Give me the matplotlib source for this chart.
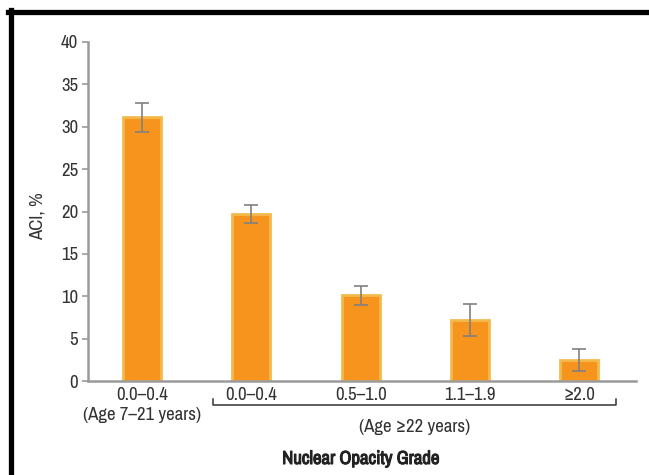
import matplotlib
matplotlib.use("Agg")
import matplotlib.pyplot as plt
from matplotlib.lines import Line2D
import matplotlib.patheffects as pe

categories = ["0.0\u20130.4", "0.0\u20130.4", "0.5\u20131.0", "1.1\u20131.9", "\u22652.0"]
values = [31.1, 19.7, 10.1, 7.2, 2.5]
errors = [1.7, 1.1, 1.1, 1.9, 1.3]
yticks = [0, 5, 10, 15, 20, 25, 30, 35, 40]

plt.rcParams['font.family'] = ["Archivo Narrow", "DejaVu Sans"]

W, H = 649, 475
fig = plt.figure(figsize=(W/100, H/100), dpi=100)
ax = fig.add_axes([88/W, 1-381/H, (636-88)/W, (381-42)/H])

x = list(range(len(values)))
ax.bar(x, values, width=0.35, color="#F7941D", edgecolor="#F2BA4C", linewidth=2, zorder=2)
ax.errorbar(x, values, yerr=errors, fmt="none", ecolor="#808080", elinewidth=1.2, capsize=5, capthick=1.2, zorder=3)

ax.set_xlim(-0.495, 4.52)
ax.set_ylim(0, 40)
ax.set_yticks(yticks)
ax.set_xticks([])
for s in ["top", "right"]:
    ax.spines[s].set_visible(False)
for s in ["left", "bottom"]:
    ax.spines[s].set_color("#9a9a9a")
    ax.spines[s].set_linewidth(1.8)
fs = 13.5
ax.tick_params(axis="y", length=4, width=1.2, color="#9a9a9a", labelsize=fs, labelcolor="#333333", pad=3)
ax.set_ylabel("ACI, %", fontsize=fs, color="#333333")
ax.yaxis.set_label_coords(-0.077, 0.487)

trans = ax.get_xaxis_transform()
for xi, lab in zip(x, categories):
    ax.text(xi, -0.0413, lab, transform=trans, ha="center", va="center", fontsize=fs, color="#333333")
ax.text(0, -0.1003, "(Age 7\u201321 years)", transform=trans, ha="center", va="center", fontsize=fs, color="#333333")

# bracket
bx0, bx1 = 0.65, 4.34
yb = -0.0708
ax.add_line(Line2D([bx0, bx0, bx1, bx1], [yb + 0.018, yb, yb, yb + 0.018], transform=trans,
                   color="#333333", linewidth=1.1, clip_on=False))
ax.text((bx0 + bx1) / 2, -0.1357, "(Age \u226522 years)", transform=trans, ha="center", va="center", fontsize=fs, color="#333333")
ax.text(2.0, -0.23, "Nuclear Opacity Grade", transform=trans, ha="center", va="center", fontsize=fs,
        color="#222222", path_effects=[pe.withStroke(linewidth=0.8, foreground="#222222")])

# black frame
fig.add_artist(Line2D([8/W, 1], [1-12/H, 1-12/H], transform=fig.transFigure, color="black", linewidth=3.8))
fig.add_artist(Line2D([11/W, 11/W], [0, 1-10/H], transform=fig.transFigure, color="black", linewidth=3.8))

fig.savefig("out.png", dpi=100)
